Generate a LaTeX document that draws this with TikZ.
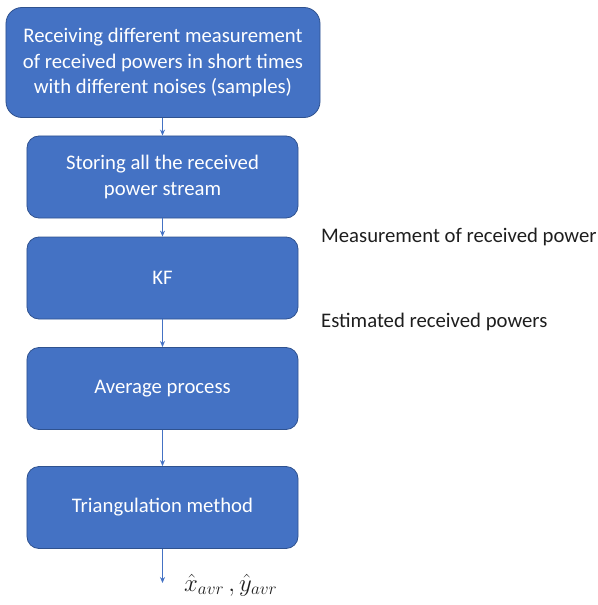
\documentclass[tikz,border=0pt]{standalone}
\usepackage{fontspec}
\setmainfont{Carlito}
\usepackage{tikz}
\usetikzlibrary{arrows.meta,positioning}
\definecolor{boxBlue}{RGB}{68, 114, 196}
\definecolor{boxEdge}{RGB}{47, 82, 143}
\definecolor{inkText}{RGB}{30, 30, 30}

\tikzset{
    stagebox/.style={draw=boxEdge, line width=0.8bp, fill=boxBlue, rounded corners=12bp,
        text=white, align=center, minimum width=271bp, minimum height=82bp, inner sep=2bp,
        font=\fontsize{20.8}{25.5}\selectfont},
    flow/.style={draw=boxBlue, line width=1.2bp, -{Stealth[length=6bp,width=5bp]}},
    sidenote/.style={anchor=west, text=inkText, inner sep=0pt, font=\fontsize{20.8}{24}\selectfont}
}

\begin{document}
\begin{tikzpicture}[x=1bp, y=-1bp]
    \useasboundingbox (0,0) rectangle (598,605);

    % processing chain
    \node[stagebox, minimum width=314bp, minimum height=110bp, rounded corners=16bp] (receive) at (163,62.5)
        {Receiving different measurement\\of received powers in short times\\with different noises (samples)};
    \node[stagebox] (store) at (162.5,177) {Storing all the received\\power stream};
    \node[stagebox] (kf) at (162.5,278) {KF};
    \node[stagebox] (average) at (162.5,388.5) {Average process};
    \node[stagebox] (triang) at (162.5,507.5) {Triangulation method};
    \coordinate (out) at (162.5,583);

    \draw[flow] (receive.south -| store.north) -- (store.north);
    \draw[flow] (store) -- (kf);
    \draw[flow] (kf) -- (average);
    \draw[flow] (average) -- (triang);
    \draw[flow] (triang) -- (out);

    % notes beside the filter
    \node[sidenote] (meas) at (321,237) {Measurement of received power};
    \node[sidenote] (est) at (321,322) {Estimated received powers};

    \node[anchor=west, inner sep=0pt, text=inkText, font=\fontsize{25}{28}\selectfont] (estpos) at (184,585)
        {$\hat{x}_{avr}\,,\hat{y}_{avr}$};
\end{tikzpicture}
\end{document}
